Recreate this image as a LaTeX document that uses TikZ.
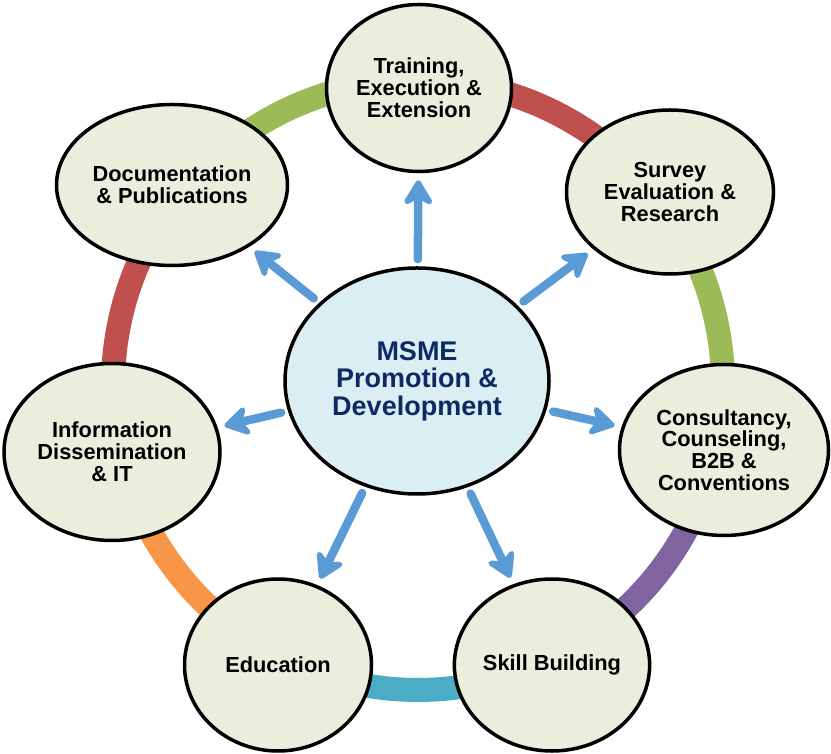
\documentclass[tikz,border=0pt]{standalone}
\usepackage{fontspec}
\setmainfont{Liberation Sans}
\usetikzlibrary{shapes.geometric,arrows.meta,backgrounds}
\definecolor{ringred}{HTML}{C0504D}
\definecolor{ringgreen}{HTML}{9BBB59}
\definecolor{ringpurple}{HTML}{8064A2}
\definecolor{ringcyan}{HTML}{4BACC6}
\definecolor{ringorange}{HTML}{F79646}
\definecolor{arrblue}{HTML}{5B9BD5}
\definecolor{outerfill}{HTML}{EBEEDD}
\definecolor{centerfill}{HTML}{DBEEF4}
\definecolor{navy}{HTML}{0E2A62}
\tikzset{
  outer/.style={ellipse, draw=black, line width=3.5bp, fill=outerfill, inner sep=0pt,
    align=center, font=\fontsize{21.8bp}{21.8bp}\selectfont\bfseries},
  hub/.style={ellipse, draw=black, line width=3.5bp, fill=centerfill, inner sep=0pt,
    align=center, text=navy, font=\fontsize{27bp}{27.5bp}\selectfont\bfseries},
  ringseg/.style={line width=24bp},
  arr/.style={arrblue, line width=8.5bp, line cap=round,
    -{Stealth[length=30bp,width=36bp,inset=9bp,round]},
    shorten <=7bp, shorten >=7bp}
}
\begin{document}
\begin{tikzpicture}[x=1bp,y=1bp]
\useasboundingbox (0,0) rectangle (831,754);
\coordinate (O) at (418,369);
\node[hub, minimum width=264bp, minimum height=226bp] (c) at (417,373) {MSME\\Promotion \&\\Development};
\node[outer, minimum width=185bp, minimum height=167bp] (tr) at (419,666) {Training,\\Execution \&\\Extension};
\node[outer, minimum width=207bp, minimum height=164bp] (sv) at (670,562) {Survey\\Evaluation \&\\Research};
\node[outer, minimum width=209bp, minimum height=171bp] (cs) at (724,304) {Consultancy,\\Counseling,\\B2B \&\\Conventions};
\node[outer, minimum width=195bp, minimum height=172bp] (sk) at (552,89) {Skill Building};
\node[outer, minimum width=187bp, minimum height=172bp] (ed) at (278,89) {Education};
\node[outer, minimum width=216bp, minimum height=177bp] (in) at (112,302) {Information\\Dissemination\\\& IT};
\node[outer, minimum width=231bp, minimum height=161bp] (dc) at (172,569) {Documentation\\\& Publications};
\begin{scope}[on background layer]
\foreach \col [count=\k from 0] in {ringred,ringgreen,ringpurple,ringcyan,ringorange,ringred,ringgreen}{
  \draw[ringseg,\col] (O) ++({90-\k*360/7}:305) arc[start angle={90-\k*360/7}, end angle={90-(\k+1)*360/7}, radius=305];
}
\end{scope}
\foreach \t in {tr,sv,cs,sk,ed,in,dc}{
  \draw[arr] (c) -- (\t);
}
\end{tikzpicture}
\end{document}
